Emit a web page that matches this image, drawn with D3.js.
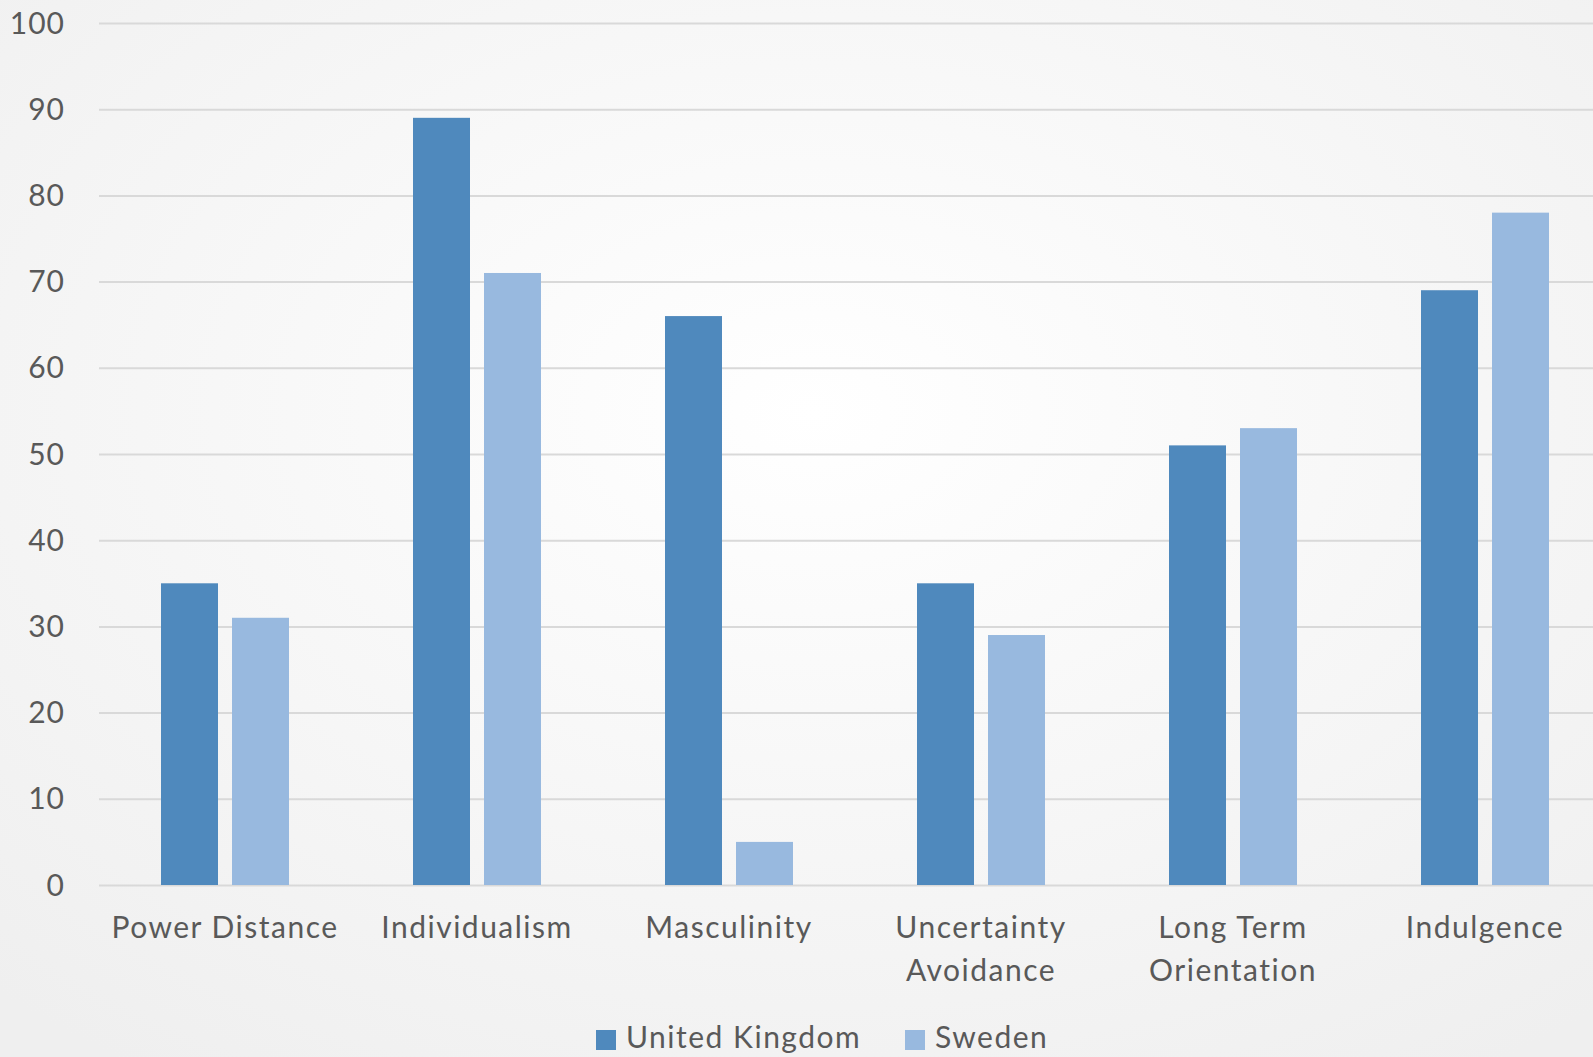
<!DOCTYPE html>
<html>
<head>
<meta charset="utf-8">
<script src="https://cdn.jsdelivr.net/npm/d3@7"></script>
<style>
  html, body { margin: 0; padding: 0; overflow: hidden; }
  svg { display: block; }
</style>
</head>
<body>
<svg id="chart" width="1593" height="1057"></svg>
<script>
// Hofstede cultural dimension scores
const categories = [
  ["Power Distance"],
  ["Individualism"],
  ["Masculinity"],
  ["Uncertainty", "Avoidance"],
  ["Long Term", "Orientation"],
  ["Indulgence"]
];
const seriesNames = ["United Kingdom", "Sweden"];
const ukValues = [35, 89, 66, 35, 51, 69];
const swedenValues = [31, 71, 5, 29, 53, 78];
const yTicks = [0, 10, 20, 30, 40, 50, 60, 70, 80, 90, 100];
const colors = ["#4f89bd", "#98b9df"];

const W = 1593, H = 1057;
const svg = d3.select("#chart");
const font = "Lato, 'Open Sans', sans-serif";
const textColor = "#595959";

// soft radial background
const defs = svg.append("defs");
const grad = defs.append("radialGradient").attr("id", "bg")
  .attr("cx", "51%").attr("cy", "39%").attr("r", "75%");
grad.append("stop").attr("offset", "0%").attr("stop-color", "#ffffff");
grad.append("stop").attr("offset", "100%").attr("stop-color", "#efefef");
svg.append("rect").attr("width", W).attr("height", H).attr("fill", "url(#bg)");

const plot = { left: 99, right: 1611, top: 23, bottom: 885 };

const x0 = d3.scaleBand()
  .domain(d3.range(categories.length))
  .range([plot.left, plot.right])
  .paddingInner(0).paddingOuter(0);

const bw = 57, gap = 14;
const x1 = d3.scaleOrdinal().domain([0, 1]).range([-(bw + gap / 2), gap / 2]);

const y = d3.scaleLinear().domain([0, 100]).range([plot.bottom, plot.top]);

// gridlines
const grid = svg.append("g")
  .attr("transform", `translate(${plot.left},0)`)
  .call(d3.axisLeft(y).tickValues(yTicks).tickSize(-(plot.right - plot.left)).tickFormat(""));
grid.select(".domain").remove();
grid.selectAll("line").attr("stroke", "#d9d9d9").attr("stroke-width", 2);

// y labels
svg.append("g").selectAll("text")
  .data(yTicks).join("text")
  .attr("x", 65).attr("y", d => y(d))
  .attr("dy", "0.35em")
  .attr("text-anchor", "end")
  .attr("font-family", font).attr("font-size", 30)
  .attr("letter-spacing", 1)
  .attr("fill", textColor)
  .text(d => d);

// bars
const rows = categories.map((c, i) => [ukValues[i], swedenValues[i]]);
const groups = svg.append("g").selectAll("g")
  .data(rows).join("g")
  .attr("transform", (d, i) => `translate(${x0(i) + x0.bandwidth() / 2},0)`);
groups.selectAll("rect")
  .data(d => d.map((v, s) => ({ v, s })))
  .join("rect")
  .attr("x", d => x1(d.s))
  .attr("width", bw)
  .attr("y", d => y(d.v))
  .attr("height", d => y(0) - y(d.v))
  .attr("fill", d => colors[d.s]);

// category labels
const catLabels = svg.append("g").selectAll("text")
  .data(categories).join("text")
  .attr("text-anchor", "middle")
  .attr("font-family", font).attr("font-size", 30)
  .attr("letter-spacing", 1.5)
  .attr("fill", textColor);
catLabels.each(function(lines, i) {
  d3.select(this).selectAll("tspan")
    .data(lines).join("tspan")
    .attr("x", x0(i) + x0.bandwidth() / 2)
    .attr("y", (d, k) => 938 + k * 43)
    .text(d => d);
});

// legend
const legendX = [596, 905];
const legend = svg.append("g").selectAll("g")
  .data(seriesNames).join("g")
  .attr("transform", (d, i) => `translate(${legendX[i]},1030)`);
legend.append("rect").attr("width", 20).attr("height", 20)
  .attr("fill", (d, i) => colors[i]);
legend.append("text")
  .attr("x", 30).attr("y", 18)
  .attr("font-family", font).attr("font-size", 30)
  .attr("letter-spacing", 1.5)
  .attr("fill", textColor)
  .text(d => d);
</script>
</body>
</html>
